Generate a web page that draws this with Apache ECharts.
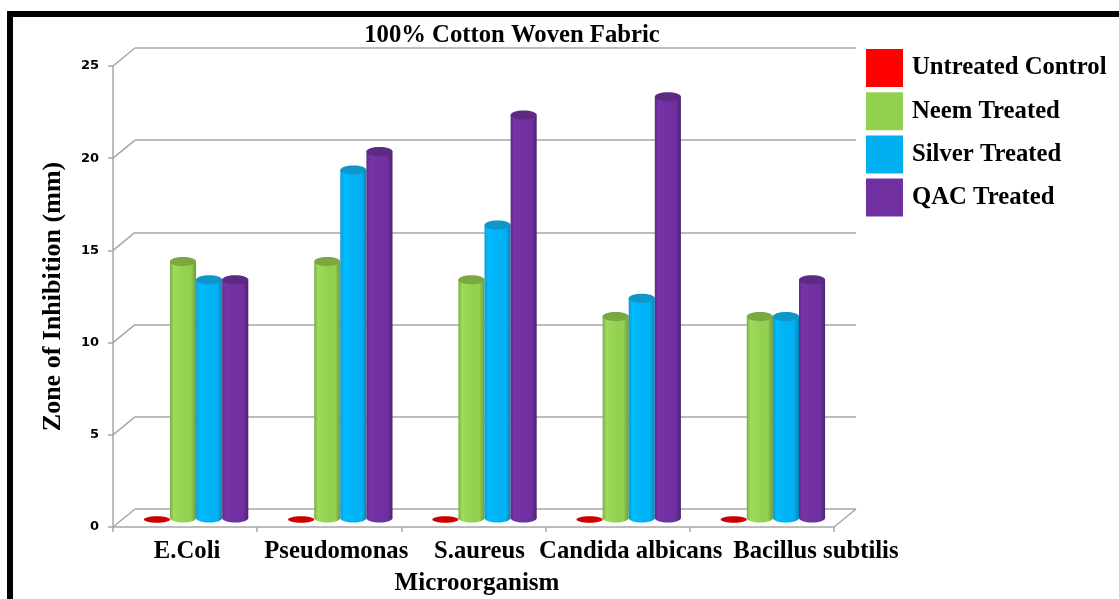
<!DOCTYPE html>
<html><head><meta charset="utf-8">
<style>html,body{margin:0;padding:0;background:#fff}#c{width:1119px;height:599px}</style>
<script src="https://cdn.jsdelivr.net/npm/echarts@6/dist/echarts.min.js"></script>
</head><body><div id="c"></div>
<script>
const categories = ['E.Coli','Pseudomonas','S.aureus','Candida albicans','Bacillus subtilis'];
const untreated = [0,0,0,0,0];
const neem = [14,14,13,11,11];
const silver = [13,19,16,12,11];
const qac = [13,20,22,23,13];
const yTicks = [0,5,10,15,20,25];

const serif = '"Liberation Serif","Times New Roman",serif';
const chart = echarts.init(document.getElementById('c'), null, {renderer:'canvas'});
const DX = 22, DY = 18;

function cylinder(idx, colors){
  return function(params, api){
    const cat = api.value(0), v = api.value(1);
    const top = api.coord([cat, v]), base = api.coord([cat, 0]);
    const w = api.size([1,0])[0] * 0.181;
    const cx = top[0] + (idx - 1.5) * w;
    const rx = w / 2;
    if (v === 0) {
      return {type:'ellipse', shape:{cx:cx, cy:base[1]+1.5, rx:rx, ry:3.2}, style:{fill:colors.flat}};
    }
    const ry = 4.5;
    const grad = new echarts.graphic.LinearGradient(0,0,1,0,[
      {offset:0, color:colors.edgeL},
      {offset:0.14, color:colors.light},
      {offset:0.55, color:colors.main},
      {offset:0.8, color:colors.main},
      {offset:1, color:colors.edgeR}
    ]);
    return {type:'group', children:[
      {type:'ellipse', shape:{cx:cx, cy:base[1], rx:rx, ry:ry}, style:{fill:grad}},
      {type:'rect', shape:{x:cx-rx, y:top[1], width:w, height:base[1]-top[1]}, style:{fill:grad}},
      {type:'ellipse', shape:{cx:cx, cy:top[1], rx:rx, ry:ry}, style:{fill:colors.top}}
    ]};
  };
}
const palette = [
  {legend:'#ff0000', flat:'#cc0000', name:'Untreated Control', data:untreated},
  {legend:'#92d050', name:'Neem Treated', data:neem, edgeL:'#7dab45', light:'#9ddb5b', main:'#94d150', edgeR:'#6f9a3e', top:'#7aa843'},
  {legend:'#00b0f0', name:'Silver Treated', data:silver, edgeL:'#0c9ad0', light:'#00bbff', main:'#00b2f3', edgeR:'#0a86b8', top:'#0e96ca'},
  {legend:'#7030a0', name:'QAC Treated', data:qac, edgeL:'#5e2b86', light:'#7733aa', main:'#7030a0', edgeR:'#4d2470', top:'#5c2a83'}
];
const series = [
  {type:'custom', name:'wall', xAxisIndex:0, yAxisIndex:0, silent:true, z:1,
   data:yTicks.map(v=>[0,v]),
   renderItem:function(params,api){
     const p = api.coord([0,api.value(1)]);
     const x0 = params.coordSys.x;
     return {type:'line', shape:{x1:x0,y1:p[1],x2:x0+DX,y2:p[1]-DY}, style:{stroke:'#a6a6a6',lineWidth:1.5}};
   }},
  {type:'custom', name:'floor', xAxisIndex:0, yAxisIndex:0, silent:true, z:1,
   data:[[0,0]],
   renderItem:function(params,api){
     const p = api.coord([0,0]);
     const x1 = params.coordSys.x + params.coordSys.width;
     return {type:'line', shape:{x1:x1,y1:p[1],x2:x1+DX,y2:p[1]-DY}, style:{stroke:'#a6a6a6',lineWidth:1.5}};
   }}
];
palette.forEach((c,i)=>{
  series.push({type:'custom', name:c.name, xAxisIndex:1, yAxisIndex:1, z:3,
    itemStyle:{color:c.legend},
    data:c.data.map((v,k)=>[k,v]),
    encode:{x:0,y:1},
    renderItem:cylinder(i,c)});
});
const offsets = {a:4,b:14,c:12,d:26,e:108};
const keys = ['a','b','c','d','e'];
const rich = {};
keys.forEach(k=>{rich[k]={fontFamily:serif,fontWeight:'bold',fontSize:24.7,color:'#000',padding:[0,0,0,offsets[k]]};});

chart.setOption({
  animation:false,
  backgroundColor:'#fff',
  title:{text:'100% Cotton Woven Fabric', left:512, top:23, textAlign:'center',
    textStyle:{fontFamily:serif,fontWeight:'bold',fontSize:24.7,color:'#000'}, padding:0},
  legend:{orient:'vertical', left:866, top:49, padding:0, icon:'rect', itemWidth:37, itemHeight:38, itemGap:5.2,
    data:palette.map(c=>c.name),
    textStyle:{fontFamily:serif,fontWeight:'bold',fontSize:24.7,color:'#000',padding:[0,0,0,4]},
    itemStyle:{borderWidth:0}},
  grid:[
    {left:113, top:66, width:721, height:461, outerBoundsMode:'none'},
    {left:124, top:60, width:721, height:458, outerBoundsMode:'none'},
    {left:135, top:48, width:721, height:461, outerBoundsMode:'none'}
  ],
  xAxis:[
    {type:'category', gridIndex:0, data:categories, boundaryGap:true,
     axisLine:{lineStyle:{color:'#a6a6a6',width:1.5}},
     axisTick:{show:true,length:5,lineStyle:{color:'#a6a6a6',width:1.5}},
     axisLabel:{interval:0,hideOverlap:false,margin:12,
       formatter:function(v,i){return '{'+keys[i]+'|'+v+'}';}, rich:rich},
     name:'Microorganism', nameLocation:'middle', nameGap:44,
     nameTextStyle:{fontFamily:serif,fontWeight:'bold',fontSize:25,color:'#000',padding:[0,0,0,7]}},
    {type:'category', gridIndex:1, data:categories, show:false},
    {type:'category', gridIndex:2, data:categories, show:false}
  ],
  yAxis:[
    {type:'value', gridIndex:0, min:0, max:25, interval:5,
     axisLine:{show:true,lineStyle:{color:'#a6a6a6',width:1.5}},
     axisTick:{show:true,length:5,lineStyle:{color:'#a6a6a6',width:1.5}},
     splitLine:{show:false},
     axisLabel:{margin:14,padding:[4,0,0,0],fontFamily:'"DejaVu Sans"',fontWeight:'bold',fontSize:13,color:'#000'},
     name:'Zone of Inhibition (mm)', nameLocation:'middle', nameGap:47, nameRotate:90,
     nameTextStyle:{fontFamily:serif,fontWeight:'bold',fontSize:26,color:'#000'}},
    {type:'value', gridIndex:1, min:0, max:25, interval:5, show:false, splitLine:{show:false}},
    {type:'value', gridIndex:2, min:0, max:25, interval:5,
     axisLine:{show:false}, axisTick:{show:false}, axisLabel:{show:false},
     splitLine:{show:true,lineStyle:{color:'#a6a6a6',width:1.5}}}
  ],
  series:series,
  graphic:[
    {type:'rect', left:7, top:11, shape:{width:1112,height:6}, style:{fill:'#000'}, silent:true},
    {type:'rect', left:7, top:11, shape:{width:6,height:588}, style:{fill:'#000'}, silent:true}
  ]
});
</script></body></html>
